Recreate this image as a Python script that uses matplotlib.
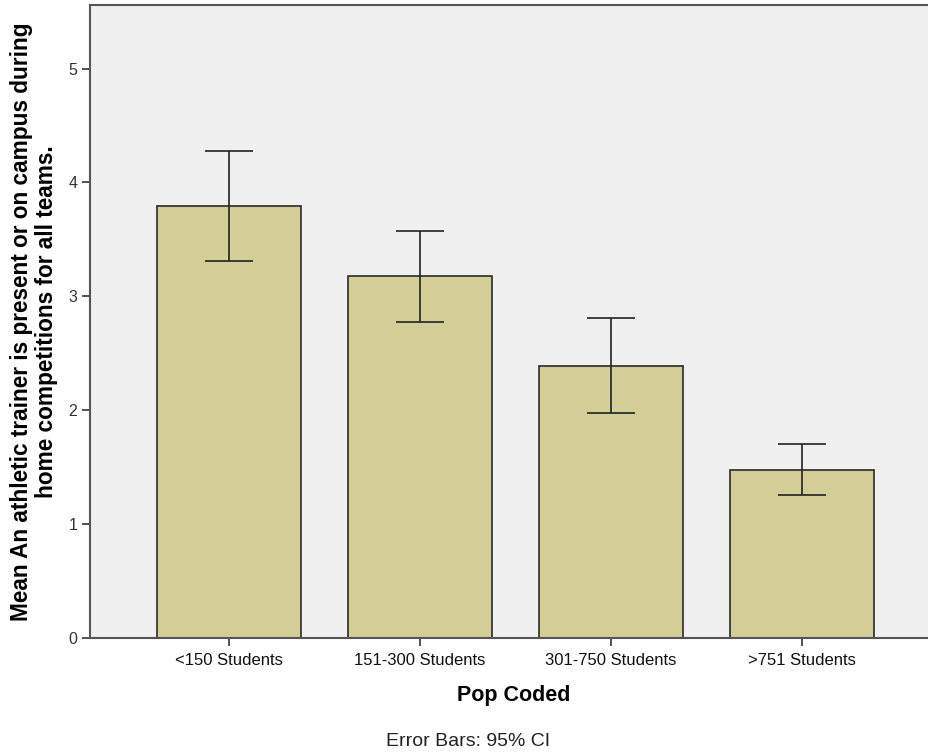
import matplotlib
matplotlib.use("Agg")
import matplotlib.pyplot as plt
import numpy as np

categories = ["<150 Students", "151-300 Students", "301-750 Students", ">751 Students"]
means = [3.79, 3.18, 2.39, 1.47]
ci_low = [3.31, 2.775, 1.97, 1.25]
ci_high = [4.28, 3.57, 2.81, 1.70]
yticks = [0, 1, 2, 3, 4, 5]

plt.rcParams['font.family'] = ['Liberation Sans', 'DejaVu Sans']

W, H = 929, 755
fig = plt.figure(figsize=(W / 100, H / 100), dpi=100)
left, right, top, bottom = 90, 941, 5, 637.5
ax = fig.add_axes([left / W, 1 - bottom / H, (right - left) / W, (bottom - top) / H])
ax.set_facecolor('#f0f0f0')

x = np.arange(len(categories))
m = np.array(means)
yerr = [m - np.array(ci_low), np.array(ci_high) - m]
ax.bar(x, m, width=0.75, color='#d3ce97', edgecolor='#2a2a2a', linewidth=1.2, zorder=2)
ax.errorbar(x, m, yerr=yerr, fmt='none', ecolor='#222222', elinewidth=1.2,
            capsize=17.1, capthick=1.2, zorder=3)

ax.set_xlim(-0.728, 3.728)
ax.set_ylim(0, 5.56)
ax.set_yticks(yticks)
ax.set_yticklabels([str(t) for t in yticks], fontsize=11.5, color='#333333')
ax.set_xticks(x)
ax.set_xticklabels(categories, fontsize=12, color='#111111')
ax.tick_params(axis='both', direction='out', length=6, width=1.3, color='#444444', pad=3)
ax.tick_params(axis='x', pad=5.5)
for s in ax.spines.values():
    s.set_color('#555555')
    s.set_linewidth(1.5)

fig.text(34 / W, 1 - 322 / H,
         "Mean An athletic trainer is present or on campus during\nhome competitions for all teams.",
         fontsize=16.3, fontweight='bold', rotation=90, ha='center', va='center',
         multialignment='center', linespacing=1.1)
fig.text(514 / W, 1 - 696 / H, "Pop Coded", fontsize=15.5, fontweight='bold',
         ha='center', va='center')
fig.text(468 / W, 1 - 741 / H, "Error Bars: 95% CI", fontsize=14, ha='center', va='center',
         color='#222222')

fig.savefig("out.png", dpi=100)
